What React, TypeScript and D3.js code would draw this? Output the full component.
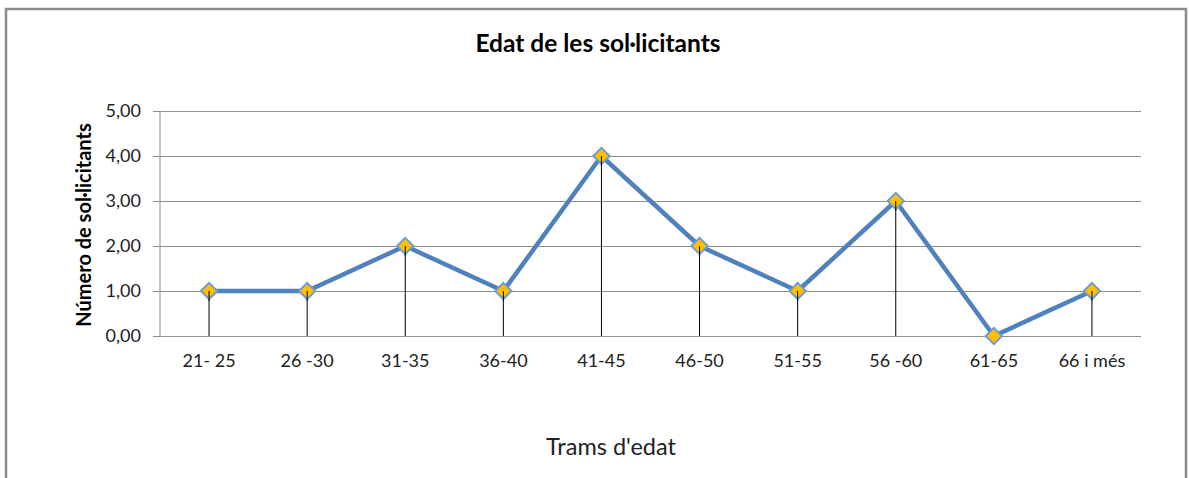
import React, { useEffect, useRef } from "react";
import * as d3 from "d3";

const categories = ["21- 25", "26 -30", "31-35", "36-40", "41-45", "46-50", "51-55", "56 -60", "61-65", "66 i més"];
const values = [1, 1, 2, 1, 4, 2, 1, 3, 0, 1];
const yTicks = [0, 1, 2, 3, 4, 5];

const title = "Edat de les sol·licitants";
const yTitle = "Número de sol·licitants";
const xTitle = "Trams d'edat";

const W = 1189;
const H = 478;
const FONT = "Lato, 'Open Sans', sans-serif";

export default function App() {
  const ref = useRef<SVGSVGElement>(null);

  useEffect(() => {
    const svg = d3.select(ref.current);
    svg.selectAll("*").remove();

    const left = 160, right = 1141, top = 111, bottom = 336;

    const x = d3.scaleBand().domain(categories).range([left, right]);
    const y = d3.scaleLinear().domain([0, 5]).range([bottom, top]);
    const cx = (d: string) => (x(d) as number) + x.bandwidth() / 2;

    // chart frame
    svg.append("rect")
      .attr("x", 6).attr("y", 9)
      .attr("width", 1180).attr("height", 500)
      .attr("fill", "#fff")
      .attr("stroke", "#8a8a8a")
      .attr("stroke-width", 2.5);

    svg.append("text")
      .text(title)
      .attr("x", 598).attr("y", 52)
      .attr("text-anchor", "middle")
      .attr("font-family", FONT)
      .attr("font-weight", "bold")
      .attr("font-size", 24.5)
      .attr("fill", "#000");

    // gridlines + y ticks
    const yAxis = d3.axisLeft(y)
      .tickValues(yTicks)
      .tickSize(-(right - left))
      .tickFormat((d) => d3.format(".2f")(d as number).replace(".", ","));

    svg.append("g")
      .attr("transform", `translate(${left},0)`)
      .call(yAxis)
      .call((g) => g.select(".domain").remove())
      .call((g) => g.selectAll(".tick line").attr("stroke", "#8c8c8c").attr("x1", -7))
      .call((g) => g.selectAll(".tick text")
        .attr("x", -19)
        .attr("font-family", FONT)
        .attr("font-size", 18)
        .attr("fill", "#222"));

    // y axis line
    svg.append("line")
      .attr("x1", left).attr("x2", left)
      .attr("y1", top).attr("y2", bottom)
      .attr("stroke", "#8c8c8c");

    // x labels
    const xAxis = d3.axisBottom(x).tickSize(0).tickPadding(18);
    svg.append("g")
      .attr("transform", `translate(0,${bottom})`)
      .call(xAxis)
      .call((g) => g.select(".domain").remove())
      .call((g) => g.selectAll(".tick text")
        .attr("font-family", FONT)
        .attr("font-size", 18)
        .attr("fill", "#222"));

    // drop lines
    svg.append("g")
      .selectAll("line")
      .data(categories.filter((c, i) => values[i] > 0))
      .enter()
      .append("line")
      .attr("x1", cx).attr("x2", cx)
      .attr("y1", (d) => y(values[categories.indexOf(d)]))
      .attr("y2", bottom)
      .attr("stroke", "#000")
      .attr("stroke-width", 1);

    const line = d3.line<number>()
      .x((d, i) => cx(categories[i]))
      .y((d) => y(d));

    svg.append("path")
      .datum(values)
      .attr("d", line)
      .attr("fill", "none")
      .attr("stroke", "#4f81bd")
      .attr("stroke-width", 4.5)
      .attr("stroke-linejoin", "round");

    const diamond = d3.symbol().type(d3.symbolDiamond2).size(170);
    svg.append("g")
      .selectAll("path")
      .data(values)
      .enter()
      .append("path")
      .attr("d", diamond)
      .attr("transform", (d, i) => `translate(${cx(categories[i])},${y(d)})`)
      .attr("fill", "#ffc000")
      .attr("stroke", "#6f9bd2")
      .attr("stroke-width", 2);

    // drop line over marker centre
    svg.append("g")
      .selectAll("line")
      .data(categories.filter((c, i) => values[i] > 0))
      .enter()
      .append("line")
      .attr("x1", cx).attr("x2", cx)
      .attr("y1", (d) => y(values[categories.indexOf(d)]))
      .attr("y2", (d) => y(values[categories.indexOf(d)]) + 10)
      .attr("stroke", "#000");

    svg.append("text")
      .text(yTitle)
      .attr("transform", "translate(91,225) rotate(-90)")
      .attr("text-anchor", "middle")
      .attr("font-family", FONT)
      .attr("font-weight", "bold")
      .attr("font-size", 20)
      .attr("fill", "#000");

    svg.append("text")
      .text(xTitle)
      .attr("x", 611).attr("y", 455)
      .attr("text-anchor", "middle")
      .attr("font-family", FONT)
      .attr("font-size", 23.5)
      .attr("fill", "#222");
  }, []);

  return (
    <div style={{ position: "fixed", left: 0, top: 0 }}>
      <svg ref={ref} width={W} height={H} viewBox={`0 0 ${W} ${H}`} style={{ display: "block" }} />
    </div>
  );
}
